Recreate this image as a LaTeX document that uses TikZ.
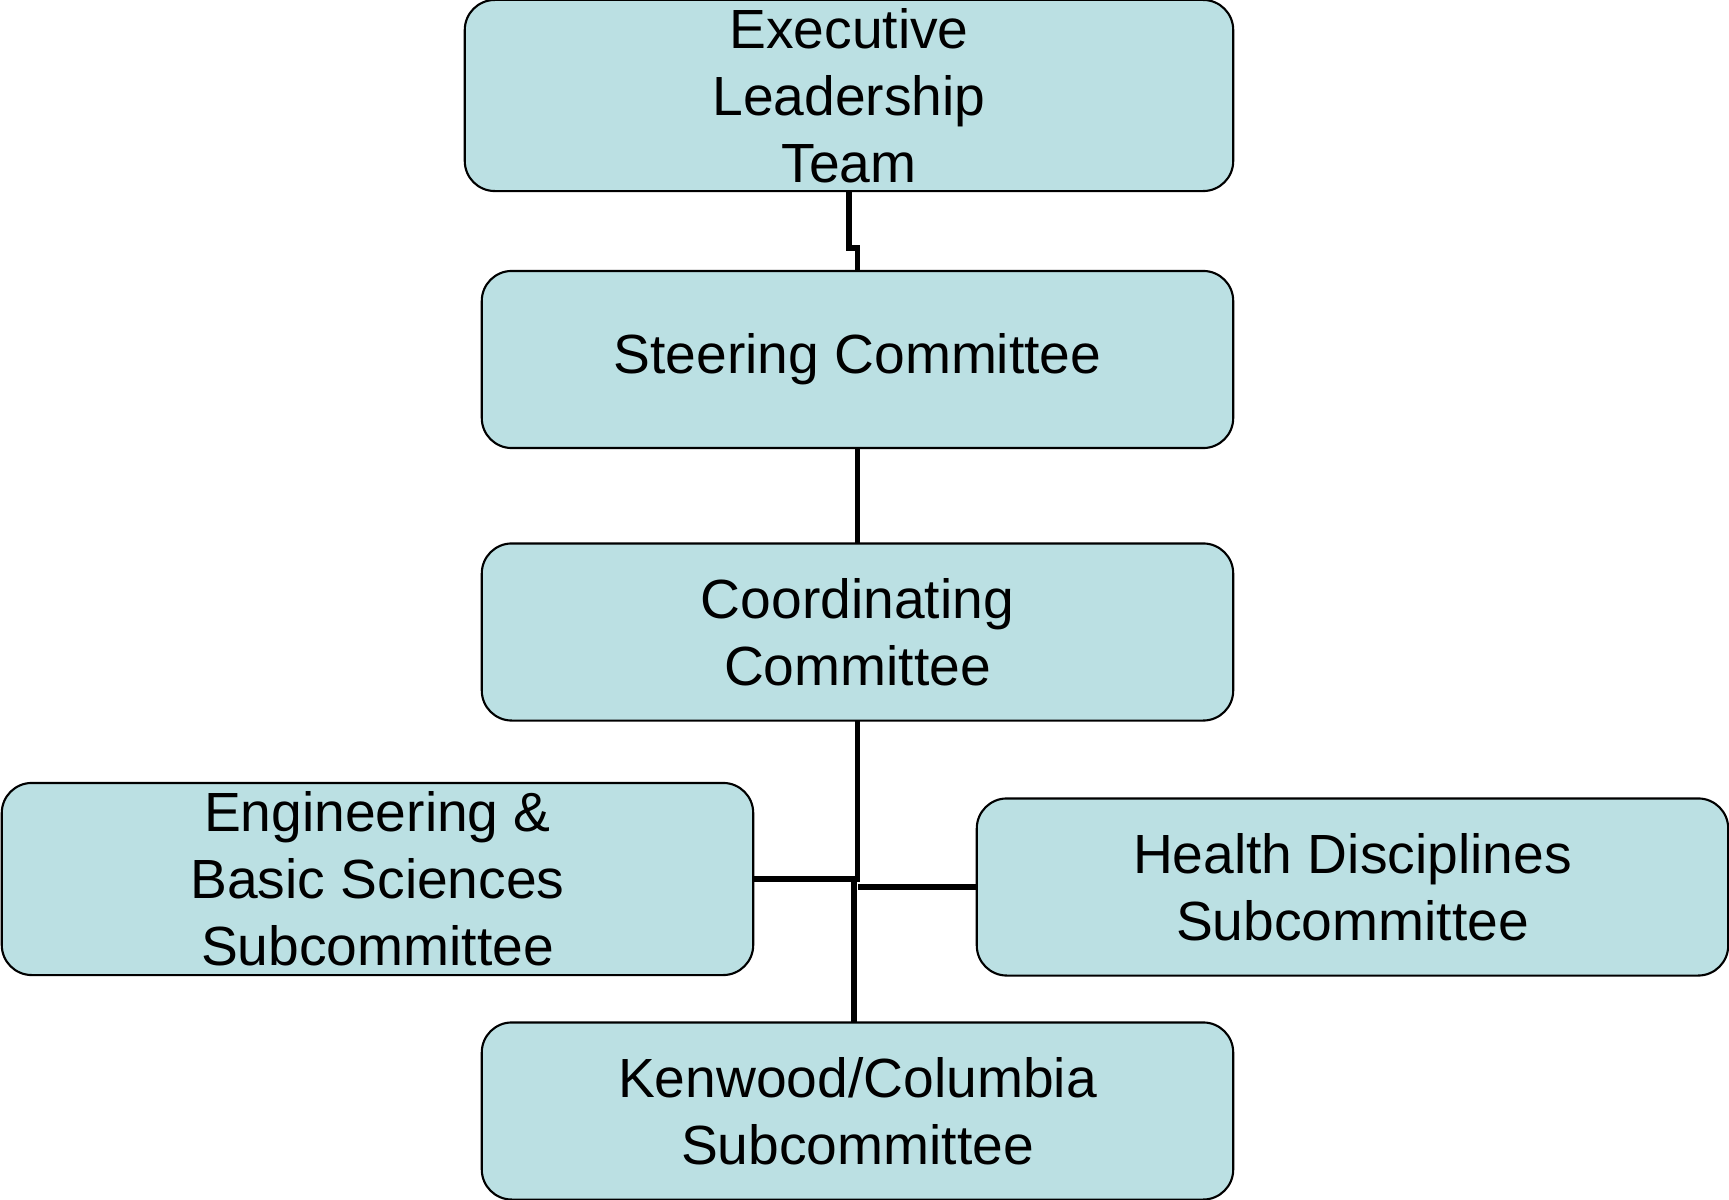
\documentclass[tikz,border=0pt]{standalone}
\usepackage{fontspec}
\setmainfont{Liberation Sans}
\usepackage{tikz}

\definecolor{orgfill}{RGB}{187,224,227}

\begin{document}
\begin{tikzpicture}[x=0.01cm, y=-0.01cm,
    org/.style={draw=black, line width=0.6pt, fill=orgfill, rounded corners=0.3cm,
        outer sep=0pt, inner sep=0pt, align=center, minimum width=7.51cm, minimum height=1.77cm,
        font=\fontsize{15.7}{19.1}\selectfont},
    link/.style={draw=black, line width=1.7pt}]
    \useasboundingbox (0,0) rectangle (1729,1200);
    \path (849, 95.5) node[org, minimum width=7.68cm, minimum height=1.91cm](exec) {Executive\\Leadership\\Team}
        (857.5, 359.5) node[org](steer) {Steering Committee}
        (857.5, 632) node[org](coord) {Coordinating\\Committee}
        (377.5, 879) node[org, minimum height=1.92cm](eng) {Engineering \&\\Basic Sciences\\Subcommittee}
        (1352.5, 887) node[org](health) {Health Disciplines\\Subcommittee}
        (857.5, 1111) node[org](ken) {Kenwood/Columbia\\Subcommittee};
    \coordinate (hub) at (854, 879);
    \draw[link] (exec.south) -- ++(0,57) -| (steer.north);
    \draw[link] (steer.south) -- (coord.north);
    \draw[link] (coord.south) |- (hub) -- (hub |- ken.north);
    \draw[link] (eng.east) -- (hub);
    \draw[link] (health.west) -- (health.west -| coord.south);
\end{tikzpicture}
\end{document}
